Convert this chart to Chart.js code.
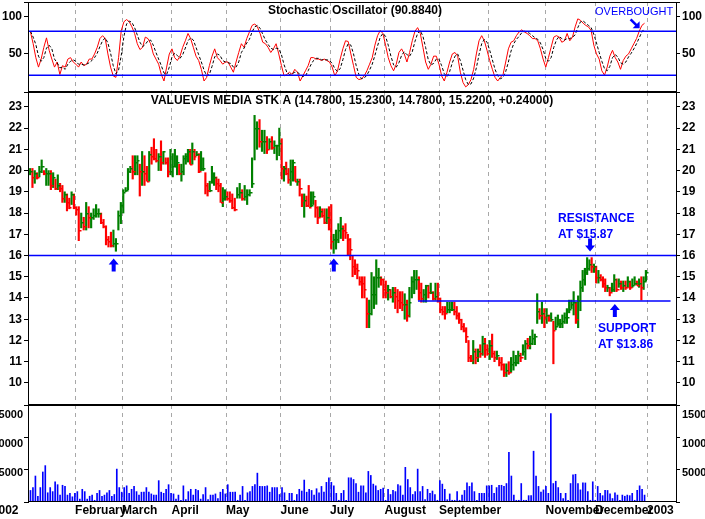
<!DOCTYPE html>
<html>
<head>
<meta charset="utf-8">
<script src="https://cdn.jsdelivr.net/npm/chart.js@4.4.1/dist/chart.umd.min.js"></script>
<style>
  body { margin: 0; background: #fff; }
  #wrap { position: relative; width: 705px; height: 519px; overflow: hidden; }
  canvas { position: absolute; left: 0; }
</style>
</head>
<body>
<div id="wrap">
  <canvas id="stoch" width="705" height="92" style="top:0"></canvas>
  <canvas id="price" width="705" height="313" style="top:92px"></canvas>
  <canvas id="volume" width="705" height="114" style="top:405px"></canvas>
</div>
<script>
// trading-day index of each month start (Jan 2002 .. Jan 2003)
const monthStarts = [0, 21, 40, 60, 82, 104, 124, 146, 168, 188, 211, 231, 252];
const monthLabels = ['2002', 'February', 'March', 'April', 'May', 'June', 'July', 'August', 'September', '', 'November', 'December', '2003'];
const barsPerMonth = [20, 19, 21, 25, 22, 22, 23, 23, 21, 24, 22, 23];
const volumeTicks = [5000, 10000, 15000];

const lows = [
  19.8,19.2,19.4,19.6,19.7,19.9,19.8,19.3,19.3,19.1,19.2,19.1,19.1,19.0,18.5,18.5,18.1,18.2,18.4,18.2,
  17.9,16.7,17.3,17.2,17.2,17.3,17.3,17.7,17.8,17.8,17.5,17.3,16.5,16.4,16.4,16.4,16.2,17.2,17.5,
  18.0,19.0,19.1,19.9,19.6,19.8,19.8,18.8,19.3,19.3,19.5,19.5,20.3,20.5,20.4,20.0,20.0,20.3,20.3,19.7,19.8,
  19.7,20.2,19.8,19.8,19.5,19.8,20.3,20.4,20.3,20.3,20.5,20.7,19.9,20.0,20.0,18.9,18.8,19.0,19.4,19.3,19.1,19.0,18.5,18.3,18.6,
  18.6,18.5,18.2,18.1,18.7,18.7,18.6,18.6,18.4,18.8,19.2,20.5,21.0,21.1,20.9,20.8,20.8,21.0,21.0,20.8,20.5,20.7,
  19.6,19.5,19.8,19.4,19.3,19.5,19.5,19.3,18.8,18.3,17.8,18.3,18.3,18.3,18.4,17.8,17.5,17.8,17.8,17.5,17.5,17.2,
  16.3,16.1,16.3,16.6,16.8,16.7,16.8,16.0,15.8,15.0,15.1,14.9,14.6,14.0,14.0,12.6,12.6,13.2,13.5,13.7,14.5,14.6,14.0,
  14.0,13.9,14.0,13.8,13.5,13.3,13.5,13.4,13.0,12.9,13.1,14.0,14.2,14.4,13.9,13.8,13.8,13.8,14.0,14.2,13.9,13.9,13.8,
  13.3,13.2,13.0,13.3,13.3,13.4,13.2,13.0,12.8,12.5,12.4,11.9,11.0,11.0,10.9,10.9,11.0,11.2,11.3,11.2,11.3,
  11.1,11.2,11.0,11.1,10.8,10.6,10.3,10.3,10.4,10.5,10.6,10.8,10.9,11.0,11.3,11.1,11.6,11.6,11.8,11.8,12.8,13.0,12.8,12.6,
  12.8,12.9,12.9,10.9,12.5,12.7,12.6,12.6,12.8,12.8,13.3,13.5,13.2,12.8,12.6,13.4,14.3,14.6,15.1,15.3,15.2,15.2,
  14.7,14.7,14.8,14.5,14.3,14.3,14.1,14.3,14.3,14.3,14.5,14.4,14.3,14.4,14.5,14.4,14.5,14.6,14.6,14.5,13.9,14.4,14.8
];
const highs = [
  20.1,20.1,20.0,19.9,20.2,20.5,20.0,20.1,20.0,20.0,19.9,19.6,19.8,19.4,19.3,19.0,18.9,18.7,19.0,18.9,
  18.3,18.3,18.0,17.8,18.5,18.3,18.0,18.2,18.4,18.2,18.0,17.7,17.4,16.9,17.1,17.2,16.8,18.1,18.5,
  19.1,19.2,20.1,20.2,20.7,20.7,20.7,20.3,20.9,20.7,20.2,20.9,21.1,21.5,21.0,20.8,21.4,20.9,20.6,20.6,21.0,
  20.8,21.0,20.7,20.3,20.3,20.7,20.8,21.0,21.0,21.3,21.0,20.9,20.8,20.9,20.6,19.9,19.4,19.5,20.2,19.9,19.7,19.6,19.4,19.2,19.1,
  19.0,19.0,18.9,18.7,19.2,19.4,19.1,19.3,19.1,19.1,20.6,22.6,22.3,22.4,21.9,21.9,21.6,21.5,21.6,21.4,21.2,22.0,
  21.5,20.2,20.4,20.1,20.5,20.5,20.2,19.6,19.6,18.9,18.9,18.8,19.3,19.0,19.0,18.6,18.3,18.3,18.2,18.2,18.2,18.3,
  18.4,17.0,17.2,17.5,17.8,17.4,17.5,17.0,16.8,16.0,15.8,15.6,15.0,15.0,15.0,14.0,13.9,15.2,15.0,15.8,15.4,15.0,14.9,
  14.8,14.6,14.4,14.5,14.5,14.4,14.3,14.3,14.2,13.9,14.5,15.0,15.3,15.3,15.0,14.7,14.4,14.6,14.6,14.7,14.3,14.7,14.7,
  14.0,13.6,13.6,13.8,13.8,13.8,13.8,13.6,13.3,13.0,12.8,12.6,12.0,11.3,12.0,11.6,11.6,11.8,12.2,12.1,11.8,
  12.0,12.3,11.5,11.5,11.2,11.2,10.9,10.9,11.0,11.2,11.5,11.3,11.5,11.4,11.8,12.0,12.1,12.2,12.5,12.3,14.2,13.5,13.8,13.5,
  13.5,13.2,13.3,12.9,13.1,13.2,13.0,13.2,13.3,13.5,13.9,13.9,14.3,13.8,14.1,14.8,15.3,15.4,15.9,15.8,15.9,15.6,
  15.5,15.3,15.1,15.0,14.9,14.6,14.5,14.7,15.1,14.9,14.9,14.8,14.8,14.8,15.0,14.8,14.9,15.0,14.8,14.9,15.0,15.0,15.3
];
const closes = [
  20.0,19.7,19.9,19.7,20.0,20.2,19.9,19.9,19.9,19.3,19.7,19.2,19.3,19.2,18.7,18.9,18.5,18.3,18.9,18.3,
  18.2,17.2,17.6,17.4,18.0,17.8,17.8,17.9,18.0,18.0,17.6,17.4,16.8,16.7,16.5,16.6,16.6,17.9,18.4,
  19.0,19.1,20.0,20.1,20.0,20.4,20.5,20.0,20.0,19.9,19.5,20.8,20.7,20.6,20.5,20.7,20.4,20.9,20.4,20.0,20.0,
  20.2,20.2,20.4,19.9,20.0,20.6,20.7,20.9,20.3,20.9,20.7,20.8,20.0,20.1,20.1,19.3,19.1,19.1,19.5,19.7,19.4,19.3,18.5,18.7,18.8,
  18.7,18.6,18.3,18.2,18.9,19.0,18.7,18.8,18.9,19.0,19.4,22.0,22.0,21.4,21.4,21.4,21.0,21.4,21.1,21.2,21.2,21.3,
  20.1,20.1,19.9,19.6,20.0,20.4,19.5,19.5,19.2,18.6,18.6,18.4,18.3,18.4,18.8,18.3,17.8,18.1,17.9,17.6,17.8,17.7,
  16.7,16.8,16.8,17.2,17.3,17.2,17.1,16.8,16.3,15.5,15.4,15.3,14.8,14.7,14.4,13.3,13.3,14.2,14.2,15.0,15.0,14.9,14.4,
  14.3,14.4,14.1,14.3,14.1,13.9,13.8,13.7,13.7,13.2,13.8,14.8,14.9,14.9,14.3,14.0,14.2,14.6,14.3,14.3,14.0,14.1,14.0,
  13.5,13.4,13.3,13.5,13.5,13.5,13.4,13.2,13.0,12.7,12.5,12.2,11.2,11.1,11.5,11.2,11.5,11.4,11.9,11.6,11.4,
  11.8,11.4,11.2,11.3,11.0,10.9,10.5,10.6,10.5,10.9,11.0,11.0,11.3,11.2,11.5,11.9,11.8,11.9,12.1,12.2,13.4,13.2,13.3,13.1,
  13.2,13.0,13.0,12.5,12.7,12.8,12.8,12.9,13.1,13.1,13.5,13.7,13.8,13.0,13.9,14.5,14.9,15.2,15.4,15.6,15.5,15.5,
  15.0,15.0,14.9,14.7,14.5,14.5,14.3,14.4,14.9,14.4,14.7,14.5,14.6,14.5,14.8,14.5,14.6,14.7,14.6,14.7,14.5,14.8,15.2
];

// stochastic %K (red) and %D (black dashed), read left to right
const stochK = [79,63,44,31,42,58,71,54,42,31,38,21,33,31,42,44,38,35,31,38,33,35,42,42,49,58,70,74,70,49,31,19,17,44,81,93,96,93,86,77,63,55,58,72,70,63,49,42,35,21,12,31,49,56,44,40,46,58,67,77,70,58,46,40,28,12,17,33,46,56,44,40,35,38,38,31,24,38,51,63,58,70,79,88,90,86,77,65,63,58,51,56,63,49,33,19,21,24,21,28,24,12,19,26,33,44,44,42,42,40,42,40,38,31,19,26,42,56,67,66,49,33,17,14,15,19,26,35,44,61,74,81,77,61,44,33,26,35,51,56,49,38,51,67,80,85,77,58,38,28,35,46,46,35,19,12,24,38,49,51,46,24,10,4,7,14,28,49,67,74,67,54,40,28,17,12,17,21,38,56,65,67,74,79,82,79,77,74,70,70,67,56,42,31,44,58,72,74,72,65,67,77,67,72,86,97,95,91,88,86,81,61,49,42,26,20,31,46,54,44,38,28,40,46,49,56,63,70,80,88,91];
const stochD = [80,72,62,46,39,44,57,61,56,42,37,30,31,28,35,39,41,39,35,35,34,35,37,40,44,50,59,67,71,64,50,33,22,27,47,73,90,94,92,85,75,65,59,62,67,68,61,51,42,33,23,21,31,45,50,47,43,48,57,67,71,68,58,48,38,27,19,21,32,45,49,47,40,38,37,36,31,31,38,51,57,64,69,79,86,88,84,76,68,62,57,55,57,56,48,34,24,21,22,24,24,21,18,19,26,34,40,43,43,41,41,41,40,36,29,25,29,41,55,63,61,49,33,21,15,16,20,27,35,47,60,72,77,73,61,46,34,31,37,47,52,48,46,52,66,77,81,73,58,41,34,36,42,42,33,22,18,25,37,46,49,40,27,14,7,8,16,30,48,63,69,65,54,41,28,19,15,17,25,38,53,63,69,73,78,80,79,77,74,71,69,64,55,43,39,44,58,68,73,70,68,70,70,72,75,85,93,94,91,88,85,76,64,51,39,29,26,32,44,48,45,37,35,38,45,50,56,63,71,79,84];

// volume in thousands
const volumes = [2.0,2.5,4.5,1.0,2.5,5.2,6.3,1.6,2.5,1.8,3.5,3.0,1.2,2.9,2.7,1.2,1.5,0.9,1.5,1.8,0.5,2.2,1.8,0.5,1.0,1.2,0.3,1.5,2.0,1.0,1.2,1.6,2.0,1.0,1.3,5.7,2.5,1.7,2.5,2.8,1.5,2.2,2.7,1.8,1.2,1.7,1.7,2.5,1.7,1.4,1.2,1.2,3.7,1.7,1.5,2.2,3.0,1.5,1.4,0.5,1.2,0.3,2.8,0.4,1.8,2.2,1.2,2.2,2.0,0.5,1.3,2.5,0.4,1.2,1.2,1.4,0.6,1.7,2.2,1.4,3.0,1.7,1.7,1.7,0.3,1.2,2.7,0.3,1.6,1.8,2.7,3.0,5.0,2.7,2.7,2.7,2.8,1.7,2.5,2.5,2.5,1.3,2.5,1.6,0.3,1.5,1.5,0.3,1.3,2.2,1.9,3.8,1.7,2.2,2.0,1.2,2.3,1.6,2.7,1.7,3.4,4.2,3.4,2.8,1.5,0.3,1.5,2.0,0.3,4.2,4.2,3.9,3.2,1.7,2.8,2.8,1.6,5.3,4.6,3.1,2.8,2.0,2.2,2.4,0.3,2.2,1.3,2.0,1.8,3.0,2.8,1.2,6.0,3.9,2.5,1.3,1.8,5.7,1.8,2.7,0.4,2.2,1.5,1.9,1.3,0.3,3.7,3.1,2.2,0.4,1.4,0.3,0.3,1.8,0.3,1.2,2.0,3.3,2.7,3.3,1.8,0.3,1.5,1.5,1.5,2.8,2.8,2.9,1.5,2.5,2.9,2.9,2.7,3.2,8.6,4.5,1.2,0.3,0.3,3.2,0.3,0.3,1.1,1.1,8.8,4.5,2.7,1.7,2.1,2.7,1.5,15.3,3.2,3.6,2.5,1.5,0.6,1.5,0.3,3.2,4.7,4.8,3.2,2.1,3.3,3.3,1.8,0.3,3.5,0.3,2.7,1.5,1.1,2.0,2.0,1.4,0.6,1.6,1.2,0.3,1.2,1.0,1.2,1.1,1.5,0.3,2.0,2.8,2.2,1.2];

const resistance = 16.0;
const support = 13.86;

const X_MIN = 2.0, X_MAX = 263.7;
const FIRST_DAY = 3, LAST_DAY = 251;
const FONT = '"Liberation Sans", Arial, sans-serif';
const BLUE = '#0000ff';

// place bars evenly inside each month
const barX = [];
barsPerMonth.forEach(function (n, m) {
  const start = m === 0 ? 2.4 : monthStarts[m];
  const end = monthStarts[m + 1];
  for (let j = 0; j < n; j++) barX.push(start + (j + 0.5) * (end - start) / n);
});
function spread(arr) {
  return arr.map((v, i) => ({ x: FIRST_DAY + i * (LAST_DAY - FIRST_DAY) / (arr.length - 1), y: v }));
}
const barColors = closes.map((c, i) => (i === 0 || c >= closes[i - 1]) ? '#008000' : '#ff0000');

function xAxis() {
  return {
    type: 'linear', min: X_MIN, max: X_MAX, offset: false,
    afterBuildTicks: s => { s.ticks = monthStarts.filter(v => v >= s.min && v <= s.max).map(v => ({ value: v })); },
    afterFit: s => { s.height = 0; s.paddingLeft = 0; s.paddingRight = 0; },
    ticks: { display: false },
    grid: { color: '#a8a8a8', lineWidth: 1, drawTicks: false, offset: false },
    border: { display: false, dash: [4, 4] }
  };
}
function yAxis(pos, min, max, step, hide, showLabels) {
  const onStep = v => Math.abs(v / step - Math.round(v / step)) < 1e-6;
  return {
    position: pos, min: min, max: max,
    afterFit: s => { s.width = pos === 'left' ? 28 : 29; s.paddingTop = 0; s.paddingBottom = 0; },
    ticks: {
      display: showLabels !== false,
      stepSize: step, autoSkip: false, color: '#000', padding: 2,
      font: { family: FONT, size: 12, weight: 'bold' },
      callback: v => (onStep(v) && !hide.includes(v)) ? String(v) : ''
    },
    grid: { drawOnChartArea: false, color: '#000', tickLength: 4 },
    border: { display: true, color: '#000' }
  };
}
function hline(y, x0, x1, color) {
  return { type: 'line', data: [{ x: x0, y: y }, { x: x1, y: y }], borderColor: color || BLUE, borderWidth: 1.5, pointRadius: 0 };
}

const frame = {
  id: 'frame',
  afterDraw(chart) {
    const a = chart.chartArea, ctx = chart.ctx;
    ctx.save();
    ctx.strokeStyle = '#000';
    ctx.lineWidth = 1;
    ctx.strokeRect(a.left + 0.5, a.top + 0.5, a.right - a.left, a.bottom - a.top - 1);
    ctx.restore();
  }
};

function arrow(ctx, x, y, dir) {
  // dir 1 = pointing up (tip at y), -1 = pointing down
  ctx.beginPath();
  ctx.moveTo(x, y);
  ctx.lineTo(x - 5, y + 6 * dir);
  ctx.lineTo(x - 2, y + 6 * dir);
  ctx.lineTo(x - 2, y + 13 * dir);
  ctx.lineTo(x + 2, y + 13 * dir);
  ctx.lineTo(x + 2, y + 6 * dir);
  ctx.lineTo(x + 5, y + 6 * dir);
  ctx.closePath();
  ctx.fill();
}

const baseOpts = { animation: false, responsive: false, devicePixelRatio: 1 };

// Stochastic panel
new Chart(document.getElementById('stoch'), {
  type: 'line',
  data: {
    datasets: [
      hline(80, X_MIN, X_MAX),
      hline(20, X_MIN, X_MAX),
      { data: spread(stochD), borderColor: '#000', borderWidth: 1, borderDash: [3, 2], pointRadius: 0, tension: 0 },
      { data: spread(stochK), borderColor: '#ff0000', borderWidth: 1, pointRadius: 0, tension: 0 }
    ]
  },
  options: {
    ...baseOpts,
    layout: { padding: { top: 2, bottom: 0 } },
    plugins: { legend: { display: false }, tooltip: { enabled: false } },
    scales: {
      x: xAxis(),
      y: yAxis('left', -3, 120, 50, [0]),
      y2: yAxis('right', -3, 120, 50, [0])
    }
  },
  plugins: [frame, {
    id: 'stochText',
    afterDraw(chart) {
      const ctx = chart.ctx, xs = chart.scales.x, ys = chart.scales.y;
      ctx.save();
      ctx.fillStyle = '#000';
      ctx.font = 'bold 12px ' + FONT;
      ctx.textAlign = 'center';
      ctx.textBaseline = 'middle';
      ctx.fillText('Stochastic Oscillator (90.8840)', 355, 11);
      ctx.fillStyle = BLUE;
      ctx.font = '11px ' + FONT;
      ctx.textAlign = 'left';
      ctx.fillText('OVERBOUGHT', 595, 12);
      // diagonal arrow toward last reading
      const tx = xs.getPixelForValue(249), ty = ys.getPixelForValue(84);
      ctx.strokeStyle = BLUE;
      ctx.lineWidth = 2.5;
      ctx.beginPath();
      ctx.moveTo(tx - 9, ty - 9);
      ctx.lineTo(tx - 2, ty - 2);
      ctx.stroke();
      ctx.beginPath();
      ctx.moveTo(tx, ty);
      ctx.lineTo(tx - 7, ty);
      ctx.lineTo(tx, ty - 7);
      ctx.closePath();
      ctx.fill();
      ctx.restore();
    }
  }]
});

// Price panel
new Chart(document.getElementById('price'), {
  type: 'bar',
  data: {
    datasets: [
      { type: 'line', ...hline(resistance, X_MIN, X_MAX) },
      { type: 'line', ...hline(support, 159.5, 261.5) },
      {
        data: barX.map((x, i) => ({ x: x, y: [lows[i], highs[i]] })),
        backgroundColor: barColors, borderWidth: 0, barThickness: 1.5, grouped: false
      }
    ]
  },
  options: {
    ...baseOpts,
    layout: { padding: 0 },
    plugins: { legend: { display: false }, tooltip: { enabled: false } },
    scales: {
      x: xAxis(),
      y: yAxis('left', 8.96, 23.7, 1, []),
      y2: yAxis('right', 8.96, 23.7, 1, [])
    }
  },
  plugins: [frame, {
    id: 'priceMarks',
    afterDatasetsDraw(chart) {
      const ctx = chart.ctx, xs = chart.scales.x, ys = chart.scales.y;
      ctx.save();
      // close ticks
      closes.forEach((c, i) => {
        const px = Math.round(xs.getPixelForValue(barX[i])), py = Math.round(ys.getPixelForValue(c));
        ctx.fillStyle = barColors[i];
        ctx.fillRect(px, py, 2.5, 1.5);
      });
      ctx.fillStyle = '#000';
      ctx.font = 'bold 12px ' + FONT;
      ctx.textAlign = 'center';
      ctx.textBaseline = 'middle';
      ctx.fillText('VALUEVIS MEDIA STK A (14.7800, 15.2300, 14.7800, 15.2200, +0.24000)', 352, 9);
      ctx.fillStyle = BLUE;
      ctx.textAlign = 'left';
      ctx.fillText('RESISTANCE', 558, 127);
      ctx.fillText('AT $15.87', 558, 143);
      ctx.fillText('SUPPORT', 598, 237);
      ctx.fillText('AT $13.86', 598, 253);
      const r = ys.getPixelForValue(resistance), s = ys.getPixelForValue(support);
      arrow(ctx, xs.getPixelForValue(36.6), r + 3, 1);
      arrow(ctx, xs.getPixelForValue(125.5), r + 3, 1);
      arrow(ctx, xs.getPixelForValue(229), r - 4, -1);
      arrow(ctx, xs.getPixelForValue(239), s + 3, 1);
      ctx.restore();
    }
  }]
});

// Volume panel
new Chart(document.getElementById('volume'), {
  type: 'bar',
  data: {
    datasets: [{
      data: spread(volumes).map(p => ({ x: p.x, y: p.y * 1000 })),
      backgroundColor: BLUE, borderWidth: 0, barThickness: 1
    }]
  },
  options: {
    ...baseOpts,
    layout: { padding: { bottom: 17 } },
    plugins: { legend: { display: false }, tooltip: { enabled: false } },
    scales: {
      x: xAxis(),
      y: yAxis('left', 0, 16800, 5000, [0], false),
      y2: yAxis('right', 0, 16800, 5000, [0], false)
    }
  },
  plugins: [frame, {
    id: 'monthText',
    afterDraw(chart) {
      const ctx = chart.ctx, xs = chart.scales.x, ys = chart.scales.y, a = chart.chartArea;
      ctx.save();
      ctx.fillStyle = '#000';
      ctx.font = 'bold 12px ' + FONT;
      ctx.textAlign = 'left';
      ctx.textBaseline = 'middle';
      monthLabels.forEach((lab, i) => {
        if (!lab) return;
        const v = i === 0 ? -12.6 : monthStarts[i];
        ctx.fillText(lab, xs.getPixelForValue(v), a.bottom + 9);
      });
      // volume axis labels on both sides
      ctx.font = 'bold 11px ' + FONT;
      volumeTicks.forEach(t => {
        const py = ys.getPixelForValue(t);
        ctx.textAlign = 'right';
        ctx.fillText(String(t), a.left - 5, py);
        ctx.textAlign = 'left';
        ctx.fillText(String(t), a.right + 6, py);
      });
      ctx.restore();
    }
  }]
});
</script>
</body>
</html>
